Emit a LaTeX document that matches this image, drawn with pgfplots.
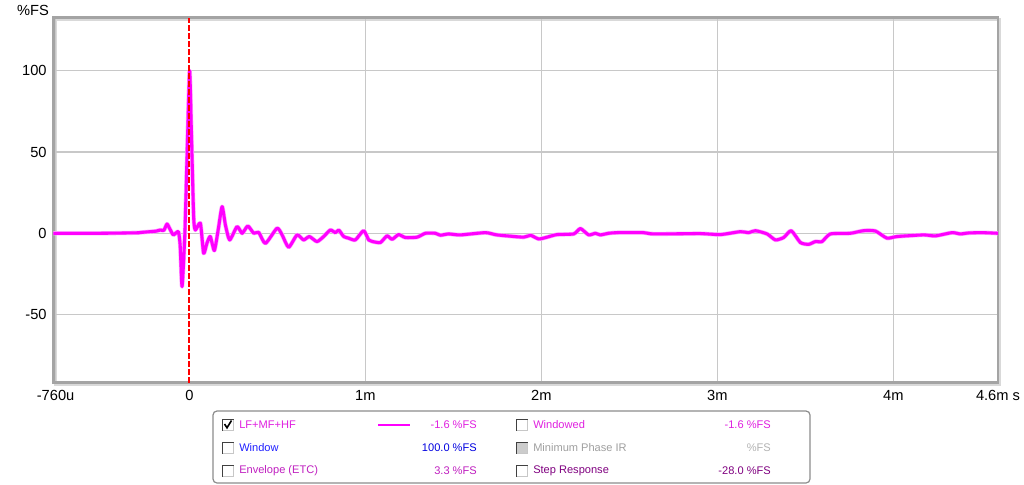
\documentclass[border=0pt]{standalone}
\usepackage{fontspec}
\setmainfont{Liberation Sans}
\usepackage{pgfplots}
\usepackage{pgfplotstable}
\pgfplotsset{compat=1.18}
\definecolor{mag}{HTML}{FF00FF}
\definecolor{ltmag}{HTML}{E020E0}
\definecolor{winblue}{HTML}{2020FF}
\definecolor{valblue}{HTML}{0000E0}
\definecolor{envc}{HTML}{C020C0}
\definecolor{stepc}{HTML}{800080}
\definecolor{mpgray}{HTML}{A0A0A0}
\definecolor{gridc}{HTML}{C8C8C8}
\definecolor{framec}{HTML}{A4A4A4}
\definecolor{zred}{RGB}{255,0,0}

\pgfplotstableread{
x y
-0.773 0
-0.50 0
-0.30 0.3
-0.278 0.5
-0.222 1
-0.190 1.3
-0.165 2
-0.145 1.8
-0.127 5.7
-0.110 2.5
-0.091 -1
-0.0625 1
-0.052 -8
-0.0415 -32.8
-0.0256 0
-0.010 60
0.0017 100
0.012 60
0.0244 10
0.034 2
0.0625 6.2
0.081 -12.3
0.100 -6
0.119 -2
0.142 -10.6
0.165 3
0.186 16.4
0.205 5
0.229 -4.1
0.271 4.1
0.300 0
0.332 4.5
0.366 0
0.394 0.6
0.432 -6.2
0.498 3.1
0.527 -1
0.564 -8.6
0.612 -1
0.649 -4.1
0.682 -2
0.725 -5.1
0.763 -2
0.801 2
0.830 0.4
0.849 2
0.877 -2
0.905 -3
0.943 -4.1
0.990 1.6
1.019 -4.1
1.038 -5
1.085 -5.7
1.123 -1.6
1.152 -3.7
1.189 -0.8
1.227 -2.6
1.294 -2.4
1.341 0
1.398 0
1.426 -1.2
1.473 -0.4
1.540 -1
1.682 0.4
1.748 -1
1.899 -2.4
1.938 -1.2
1.985 -3.5
2.032 -2.4
2.089 -0.8
2.184 -0.4
2.222 2.9
2.269 -1
2.307 0
2.335 -1
2.382 0
2.430 0.4
2.581 0.4
2.638 -0.4
2.903 -0.2
3.017 -0.8
3.131 1
3.178 0.4
3.216 1.6
3.283 -0.4
3.330 -4.1
3.377 -2.6
3.420 1.6
3.472 -5.7
3.519 -6.8
3.557 -5.1
3.595 -5.1
3.642 -0.4
3.756 0
3.831 1.6
3.898 1.4
3.964 -3
4.021 -2
4.172 -1
4.239 -1.6
4.334 0.4
4.381 -0.4
4.428 0.2
4.504 0.4
4.595 0
}\irdata

\newcommand{\cbox}[3][white]{%
  \fill[#1] (#2-5.5,#3-5.5) rectangle (#2+5.5,#3+5.5);
  \draw[black!75, line width=0.8pt] (#2-5.5,#3+5.5) -- (#2-5.5,#3-5.5) -- (#2+5.5,#3-5.5);
  \draw[black!22, line width=0.6pt] (#2+5.5,#3-5.5) -- (#2+5.5,#3+5.5) -- (#2-5.5,#3+5.5);
}

\begin{document}
\begin{tikzpicture}
\useasboundingbox (0,0) rectangle (768pt,-363.75pt);
% frame shadow
\draw[black!15, line width=2.2pt] (41.5pt,-288.4pt) rectangle (750pt,-14.6pt);
\begin{axis}[
  at={(40pt,-286.9pt)}, anchor=south west,
  scale only axis, width=708.5pt, height=273.75pt,
  xmin=-0.773, xmax=4.595, ymin=-91.8, ymax=132.7,
  xtick={-0.76,1,2,3,4,4.595},
  xticklabels={-760u,1m,2m,3m,4m,4.6m s},
  extra x ticks={0},
  extra x tick labels={0},
  extra x tick style={grid=none},
  ytick={-50,0,50,100},
  yticklabels={-50,0,50,100},
  grid=major,
  grid style={color=gridc, line width=0.8pt},
  major tick length=0pt,
  axis line style={draw=framec, line width=2.2pt},
  tick label style={font=\fontsize{11}{13}\selectfont, text=black},
  xticklabel style={yshift=-2.5pt},
  yticklabel style={xshift=-1.5pt},
]
\addplot[mag!35, line width=3.2pt, line join=round, smooth, tension=0.35] table[x=x,y=y] {\irdata};
\addplot[mag, line width=2.3pt, line join=round, smooth, tension=0.35] table[x=x,y=y] {\irdata};
\addplot[draw=zred, line width=1.5pt, mark=none, dash pattern=on 4pt off 2pt] coordinates {(0,-91.8) (0,132.7)};
\end{axis}
\begin{scope}[x=0.75pt, y=-0.75pt]
\node[anchor=center, font=\fontsize{11}{13}\selectfont] at (33,10) {\%FS};
% legend box
\draw[black!45, line width=0.9pt, rounded corners=3pt, fill=white] (213,411) rectangle (810,483);
\begin{scope}[font=\fontsize{8.3}{10}\selectfont]
\cbox{228}{425}
\draw[black, line width=1.2pt] (224.5,424) -- (227,427.8) -- (231.5,420.5);
\cbox{228}{448}
\cbox{228}{471}
\cbox{522}{425}
\cbox[black!20]{522}{448}
\cbox{522}{471}
\node[anchor=west, text=ltmag, inner sep=0pt] at (239,425) {LF+MF+HF};
\node[anchor=west, text=winblue, inner sep=0pt] at (239,448) {Window};
\node[anchor=west, text=envc, inner sep=0pt] at (239,471) {Envelope (ETC)};
\draw[mag, line width=2pt] (378,425) -- (410,425);
\node[anchor=east, text=ltmag, inner sep=0pt] at (477,425) {-1.6 \%FS};
\node[anchor=east, text=valblue, inner sep=0pt] at (477,448) {100.0 \%FS};
\node[anchor=east, text=envc, inner sep=0pt] at (477,471) {3.3 \%FS};
\node[anchor=west, text=ltmag, inner sep=0pt] at (533,425) {Windowed};
\node[anchor=west, text=mpgray, inner sep=0pt] at (533,448) {Minimum Phase IR};
\node[anchor=west, text=stepc, inner sep=0pt] at (533,471) {Step Response};
\node[anchor=east, text=ltmag, inner sep=0pt] at (771,425) {-1.6 \%FS};
\node[anchor=east, text=mpgray!80, inner sep=0pt] at (771,448) {\%FS};
\node[anchor=east, text=stepc, inner sep=0pt] at (771,471) {-28.0 \%FS};
\end{scope}
\end{scope}
\end{tikzpicture}
\end{document}
